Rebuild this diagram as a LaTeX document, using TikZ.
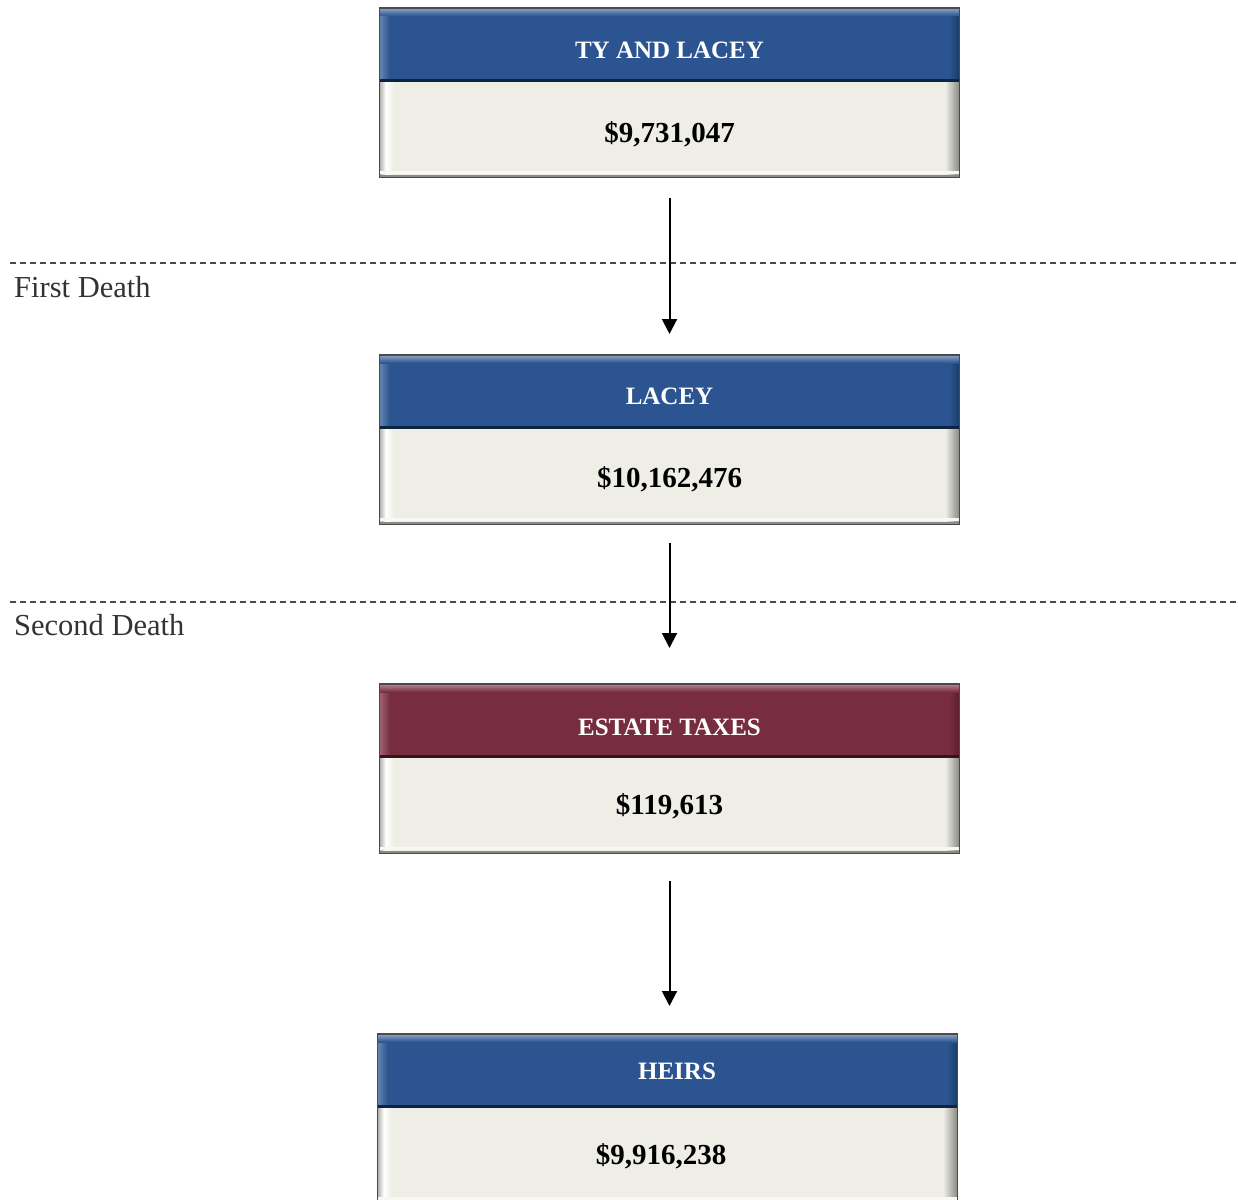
\documentclass[tikz,border=0pt]{standalone}
\usepackage{fontspec}
\setmainfont{Liberation Serif}
\usetikzlibrary{arrows.meta,calc}
\definecolor{hblue}{HTML}{2B5490}
\definecolor{hbluelight}{HTML}{8EA4C4}
\definecolor{hbluedark}{HTML}{0B2442}
\definecolor{hred}{HTML}{782D3F}
\definecolor{hredlight}{HTML}{B58690}
\definecolor{hreddark}{HTML}{3A101B}
\definecolor{bodyc}{HTML}{EEEDE6}
\definecolor{edgegray}{HTML}{8A8A86}
\definecolor{framegray}{HTML}{4A4A4A}
\definecolor{lblgray}{HTML}{333333}
\tikzset{
  hdr/.style={rectangle, minimum width=579pt, minimum height=72pt, inner sep=0pt, draw=none},
  bodybox/.style={rectangle, minimum width=579pt, minimum height=97pt, inner sep=0pt, fill=bodyc, draw=none},
  ttl/.style={text=white, font=\bfseries\fontsize{25}{30}\selectfont, inner sep=0pt},
  val/.style={text=black, font=\bfseries\fontsize{29}{34}\selectfont, inner sep=0pt},
  lbl/.style={text=lblgray, font=\fontsize{30.5}{35}\selectfont, inner sep=0pt},
  dline/.style={draw=framegray, line width=1.3pt, dash pattern=on 6pt off 4pt},
  arr/.style={draw=black, line width=2pt, -{Triangle[length=15pt,width=15pt]}},
}
% #1 id, #2 cx, #3 top, #4 color, #5 light, #6 dark, #7,#8 unused, #9 text nodes
\newcommand\estbox[9]{%
  \node[hdr, fill=#4, anchor=north] (h#1) at (#2,#3) {};
  \node[bodybox, anchor=north] (b#1) at (h#1.south) {};
  \shade[left color=#5!60!#4, right color=#4] (h#1.north west) rectangle ($(h#1.south west)+(10,0)$);
  \shade[left color=#4, right color=#6!50!#4] ($(h#1.north east)+(-10,0)$) rectangle (h#1.south east);
  \shade[top color=#5, bottom color=#4] (h#1.north west) rectangle ($(h#1.north east)+(0,8)$);
  \shade[left color=edgegray!60!bodyc, right color=white] (b#1.north west) rectangle ($(b#1.south west)+(6,0)$);
  \shade[left color=white, right color=bodyc] ($(b#1.north west)+(6,0)$) rectangle ($(b#1.south west)+(14,0)$);
  \shade[left color=bodyc, right color=edgegray] ($(b#1.north east)+(-14,0)$) rectangle (b#1.south east);
  \fill[white!60!bodyc] ($(b#1.south west)+(0,-7)$) rectangle ($(b#1.south east)+(0,-4)$);
  \fill[edgegray] ($(b#1.south west)+(0,-3)$) rectangle (b#1.south east);
  \draw[#6, line width=2.5pt] (h#1.south west) -- (h#1.south east);
  \draw[framegray, line width=1.2pt] (h#1.north west) rectangle (b#1.south east);
  \path #9;
}
\begin{document}
\begin{tikzpicture}[x=1pt,y=-1pt]
\useasboundingbox[fill=white] (0,0) rectangle (1238,1199);

% dashed separators
\coordinate (d1l) at (10,263); \coordinate (d1r) at (1238,263);
\coordinate (d2l) at (10,602); \coordinate (d2r) at (1238,602);
\draw[dline] (d1l) -- (d1r);
\draw[dline] (d2l) -- (d2r);
\node[lbl, anchor=base west] (l1) at (14,297) {First Death};
\node[lbl, anchor=base west] (l2) at (14,635) {Second Death};

\estbox{1}{669.5}{8}{hblue}{hbluelight}{hbluedark}{}{}{
  node[ttl, anchor=base] (t1) at ($(h1.north)+(0,51)$) {TY AND LACEY}
  node[val, anchor=base] (v1) at ($(b1.north)+(0,62)$) {\$9,731,047}}
\estbox{2}{669.5}{355}{hblue}{hbluelight}{hbluedark}{}{}{
  node[ttl, anchor=base] (t2) at ($(h2.north)+(0,49)$) {LACEY}
  node[val, anchor=base] (v2) at ($(b2.north)+(0,60)$) {\$10,162,476}}
\estbox{3}{669.5}{684}{hred}{hredlight}{hreddark}{}{}{
  node[ttl, anchor=base] (t3) at ($(h3.north)+(0,51)$) {ESTATE TAXES}
  node[val, anchor=base] (v3) at ($(b3.north)+(0,58)$) {\$119,613}}
\estbox{4}{667.5}{1034}{hblue}{hbluelight}{hbluedark}{}{}{
  node[ttl, anchor=base] (t4) at ($(h4.north)+(9.5,45)$) {HEIRS}
  node[val, anchor=base] (v4) at ($(b4.north)+(-6.5,58)$) {\$9,916,238}}

% arrows
\draw[arr, shorten <=20pt, shorten >=21pt] (b1.south) -- (h2.north);
\draw[arr, shorten <=18pt, shorten >=36pt] (b2.south) -- (h3.north);
\draw[arr, shorten <=27pt, shorten >=28pt] (b3.south) -- (b3.south |- h4.north);
\end{tikzpicture}
\end{document}
